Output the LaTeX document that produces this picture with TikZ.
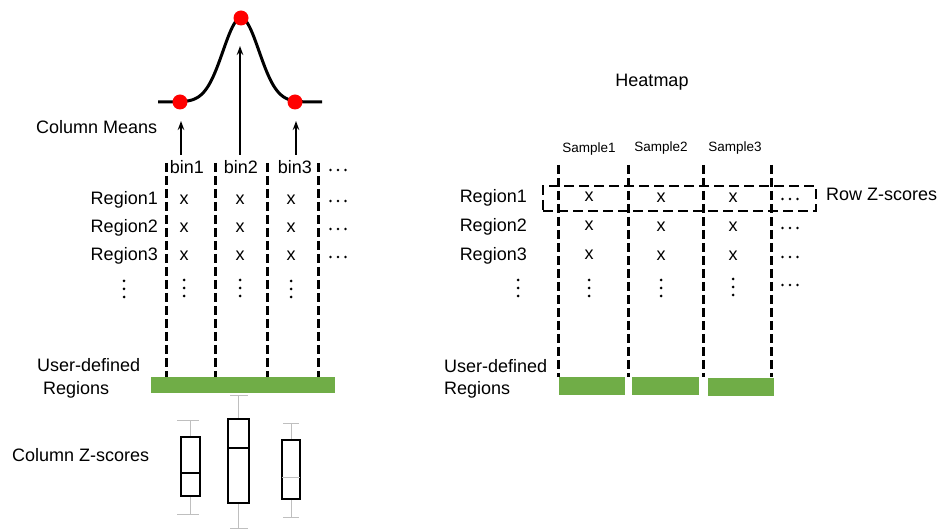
\documentclass[tikz,border=0pt]{standalone}
\usepackage{fontspec}
\setmainfont{Liberation Sans}
\usetikzlibrary{arrows.meta}
\definecolor{regiongreen}{HTML}{70AD47}
\definecolor{meanred}{HTML}{FF0000}
\tikzset{
  lbl/.style={font=\fontsize{18}{21}\selectfont, inner sep=0pt},
  smp/.style={font=\fontsize{13.5}{16}\selectfont, inner sep=0pt},
  colline/.style={line width=3pt, dash pattern=on 9pt off 4pt},
  rowbox/.style={line width=2.5pt, dash pattern=on 10pt off 5pt},
  regionbar/.style={fill=regiongreen},
  meandot/.style={circle, fill=meanred, minimum size=15pt, inner sep=0pt},
  uparrow/.style={-{Stealth[length=9pt,width=6.5pt]}, line width=2pt},
  boxline/.style={draw=black, line width=1.2pt},
  whisk/.style={draw=black!25, line width=1pt},
  pics/hdots/.style={code={
    \fill (-7.5,0) circle (1.4pt) (0,0) circle (1.4pt) (7.5,0) circle (1.4pt);}},
  pics/vdots/.style={code={
    \fill (0,-8) circle (1.5pt) (0,0) circle (1.5pt) (0,8) circle (1.5pt);}},
}
\begin{document}
\begin{tikzpicture}[x=1pt, y=-1pt]
\useasboundingbox (0,0) rectangle (943,529);

% ---------- left panel: column means ----------
\draw[line width=3pt] plot[domain=158:322, samples=120, smooth]
  (\x, {102-84*exp(-0.5*pow((\x-241)/18,2))});
\node[meandot] (m1) at (180,102) {};
\node[meandot] (m2) at (241,18) {};
\node[meandot] (m3) at (295,102) {};

\node[lbl, anchor=mid west] (colmeans) at (36,131) {Column Means};

\coordinate (a1s) at (181,155); \coordinate (a1e) at (181,121);
\coordinate (a2s) at (240,155); \coordinate (a2e) at (240,46);
\coordinate (a3s) at (296,155); \coordinate (a3e) at (296,121);
\draw[uparrow] (a1s) -- (a1e);
\draw[uparrow] (a2s) -- (a2e);
\draw[uparrow] (a3s) -- (a3e);

% column separators
\foreach \cx [count=\i] in {166,215,267,318}{
  \coordinate (lt\i) at (\cx,163);
  \coordinate (lb\i) at (\cx,378);
  \draw[colline] (lt\i) -- (lb\i);
}

% column headers
\node[lbl, anchor=mid] (bin1) at (187,171) {bin1};
\node[lbl, anchor=mid] (bin2) at (241,171) {bin2};
\node[lbl, anchor=mid] (bin3) at (295,171) {bin3};
\pic at (338,170) {hdots};

% rows
\foreach \ry/\nm [count=\j] in {202/Region1,230/Region2,258/Region3}{
  \node[lbl, anchor=mid east] (lr\j) at (158,\ry) {\nm};
  \node[lbl, anchor=mid] (lx\j a) at (184,\ry) {x};
  \node[lbl, anchor=mid] (lx\j b) at (240,\ry) {x};
  \node[lbl, anchor=mid] (lx\j c) at (291,\ry) {x};
  \pic at (338,\ry-1) {hdots};
}
\pic at (124,289) {vdots};
\pic at (184,288) {vdots};
\pic at (240,288) {vdots};
\pic at (291,289) {vdots};

% user-defined regions
\fill[regionbar] (151,377) rectangle (335,393);
\node[lbl, anchor=mid west] (lud) at (37,369) {User-defined};
\node[lbl, anchor=mid west] (lreg) at (43,392) {Regions};

% ---------- column z-scores ----------
\node[lbl, anchor=mid west] (colz) at (12,459) {Column Z-scores};

% box 1
\draw[whisk] (190.5,437) -- (190.5,420) (177,420) -- (199,420);
\draw[whisk] (190.5,496) -- (190.5,514) (177,514) -- (199,514);
\draw[boxline] (181,437) rectangle (200,496);
\draw[boxline] (181,473) -- (200,473);
% box 2
\draw[whisk] (238.5,419) -- (238.5,396) (230,396) -- (248,396);
\draw[whisk] (238.5,503) -- (238.5,528) (230,528) -- (248,528);
\draw[boxline] (228,419) rectangle (249,503);
\draw[boxline] (228,448) -- (249,448);
% box 3
\draw[whisk] (291,440) -- (291,423) (283,423) -- (299,423);
\draw[whisk] (291,499) -- (291,517) (283,517) -- (299,517);
\draw[boxline] (282,440) rectangle (300,499);
\draw[whisk] (282,477) -- (300,477);

% ---------- right panel: heatmap ----------
\node[lbl, anchor=mid] (heat) at (652,84) {Heatmap};
\node[smp, anchor=mid] (s1) at (589,150) {Sample1};
\node[smp, anchor=mid] (s2) at (661,149) {Sample2};
\node[smp, anchor=mid] (s3) at (735,149) {Sample3};

\foreach \cx [count=\i] in {558,628,703,771}{
  \coordinate (rt\i) at (\cx,165);
  \coordinate (rb\i) at (\cx,377);
  \draw[colline] (rt\i) -- (rb\i);
}

\foreach \ry/\nm [count=\j] in {200/Region1,229/Region2,258/Region3}{
  \node[lbl, anchor=mid east] (rr\j) at (527,\ry) {\nm};
  \node[lbl, anchor=mid] (rx\j a) at (589,\ry-1) {x};
  \node[lbl, anchor=mid] (rx\j b) at (661,\ry) {x};
  \node[lbl, anchor=mid] (rx\j c) at (733,\ry) {x};
  \pic at (790,\ry-1) {hdots};
}
\pic at (518,288) {vdots};
\pic at (589,288) {vdots};
\pic at (661,288) {vdots};
\pic at (733,287) {vdots};
\pic at (790,285) {hdots};

% row z-score frame
\node[rowbox, draw, minimum width=273pt, minimum height=25pt, inner sep=0pt] (rowz) at (679.5,198.5) {};
\node[lbl, anchor=mid west] (rowzl) at (826,198) {Row Z-scores};

% user-defined regions
\fill[regionbar] (559,377) rectangle (625,395);
\fill[regionbar] (632,377) rectangle (699,395);
\fill[regionbar] (708,378) rectangle (774,396);
\node[lbl, anchor=mid west] (rud) at (444,370) {User-defined};
\node[lbl, anchor=mid west] (rreg) at (444,392) {Regions};
\end{tikzpicture}
\end{document}
